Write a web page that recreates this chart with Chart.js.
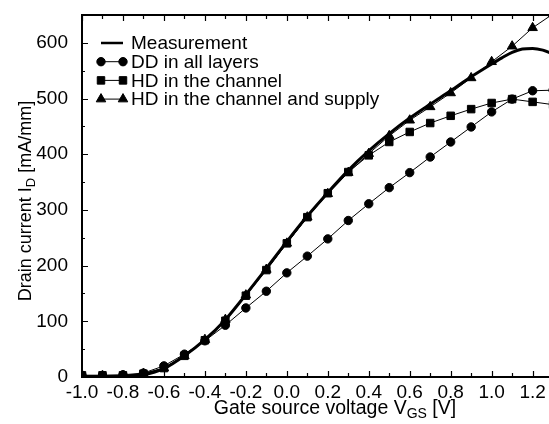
<!DOCTYPE html>
<html>
<head>
<meta charset="utf-8">
<script src="https://cdn.jsdelivr.net/npm/chart.js@4.4.1/dist/chart.umd.min.js"></script>
<style>
  html, body { margin: 0; padding: 0; background: #fff; }
  #wrap { width: 549px; height: 424px; }
</style>
</head>
<body>
<div id="wrap"><canvas id="chart"></canvas></div>
<script>
// gate voltage steps of the simulations [V]
const vgs = [-1.0, -0.9, -0.8, -0.7, -0.6, -0.5, -0.4, -0.3, -0.2, -0.1, 0.0,
  0.1, 0.2, 0.3, 0.4, 0.5, 0.6, 0.7, 0.8, 0.9, 1.0, 1.1, 1.2, 1.3];

// drain current [mA/mm]
const ddAll = [3, 3, 4, 7, 20, 41, 65, 93, 124, 154, 187,
  217, 248, 281, 311, 340, 367, 395, 422, 449, 476, 499, 514, 515];
const hdChannel = [3, 3, 3, 6, 16, 38, 66, 101, 146, 192, 240,
  287, 330, 368, 398, 422, 440, 456, 469, 481, 492, 499, 494, 489];
const hdSupply = [2, 2, 2, 6, 16, 38, 67, 103, 147, 193, 240,
  287, 329, 367, 401, 433, 461, 485, 510, 537, 566, 594, 627, 652];

// measured curve
const measVgs = [-1.0, -0.9, -0.8, -0.7, -0.6, -0.5, -0.4, -0.3, -0.2, -0.1, 0.0,
  0.1, 0.2, 0.3, 0.4, 0.5, 0.6, 0.7, 0.8, 0.9, 1.0, 1.05, 1.1, 1.15, 1.2, 1.25, 1.3];
const measId = [0, 0, 1, 4, 15, 38, 67, 103, 148, 195, 243,
  289, 331, 371, 406, 437, 465, 490, 514, 539, 562, 573, 583, 589, 590, 587, 580];

const xTicks = [-1.0, -0.8, -0.6, -0.4, -0.2, 0.0, 0.2, 0.4, 0.6, 0.8, 1.0, 1.2];
const xMinorTicks = [-0.9, -0.7, -0.5, -0.3, -0.1, 0.1, 0.3, 0.5, 0.7, 0.9, 1.1];
const yTicks = [0, 100, 200, 300, 400, 500, 600];
const yMinorTicks = [50, 150, 250, 350, 450, 550];

const FONT = 'Liberation Sans, Arial, sans-serif';
const FS = 19;

const pts = (xs, ys) => xs.map((x, i) => ({ x: x, y: ys[i] }));

// text with one subscript part, centred on (0,0) of the current transform
const drawSubLabel = (ctx, parts, size) => {
  const sub = Math.round(size * 0.7);
  const widths = parts.map(p => {
    ctx.font = (p.sub ? sub : size) + 'px ' + FONT;
    return ctx.measureText(p.t).width;
  });
  let x = -widths.reduce((a, b) => a + b, 0) / 2;
  ctx.textBaseline = 'alphabetic';
  ctx.textAlign = 'left';
  parts.forEach((p, i) => {
    ctx.font = (p.sub ? sub : size) + 'px ' + FONT;
    ctx.fillText(p.t, x, p.sub ? 4 : 0);
    x += widths[i];
  });
};

const frame = {
  id: 'frame',
  afterDraw(chart) {
    const { ctx, chartArea: a, scales: { x, y } } = chart;
    ctx.save();
    ctx.strokeStyle = '#000';
    ctx.fillStyle = '#000';

    // top border
    ctx.lineWidth = 2;
    ctx.beginPath();
    ctx.moveTo(a.left - 1, a.top);
    ctx.lineTo(a.right, a.top);
    ctx.stroke();

    // inward ticks
    ctx.lineWidth = 1.2;
    ctx.beginPath();
    const xt = (v, len) => {
      const px = Math.round(x.getPixelForValue(v)) + 0.5;
      ctx.moveTo(px, a.bottom); ctx.lineTo(px, a.bottom - len);
      ctx.moveTo(px, a.top); ctx.lineTo(px, a.top + len);
    };
    const yt = (v, len) => {
      const py = Math.round(y.getPixelForValue(v)) + 0.5;
      ctx.moveTo(a.left, py); ctx.lineTo(a.left + len, py);
    };
    xTicks.forEach(v => xt(v, 6));
    xMinorTicks.forEach(v => xt(v, 4));
    yTicks.forEach(v => yt(v, 6));
    yMinorTicks.forEach(v => yt(v, 3));
    ctx.stroke();

    // legend inside the plot
    chart.data.datasets.forEach((ds, i) => {
      const ly = a.top + 28 + i * 18.7;
      const x0 = a.left + 19, x1 = a.left + 41;
      ctx.beginPath();
      ctx.lineWidth = ds.pointStyle ? 1 : 2.5;
      ctx.moveTo(x0, ly); ctx.lineTo(x1, ly);
      ctx.stroke();
      if (ds.pointStyle) {
        const o = { pointStyle: ds.pointStyle, radius: ds.pointRadius, rotation: 0, borderWidth: 1 };
        Chart.helpers.drawPoint(ctx, o, x0, ly);
        Chart.helpers.drawPoint(ctx, o, x1, ly);
      }
      ctx.font = FS + 'px ' + FONT;
      ctx.textAlign = 'left';
      ctx.textBaseline = 'middle';
      ctx.fillText(ds.label, a.left + 49, ly + 1);
    });

    // axis titles
    ctx.save();
    ctx.translate(335, 414);
    drawSubLabel(ctx, [{ t: 'Gate source voltage V' }, { t: 'GS', sub: true }, { t: ' [V]' }], 19.5);
    ctx.restore();
    ctx.save();
    ctx.translate(31, 201);
    ctx.rotate(-Math.PI / 2);
    drawSubLabel(ctx, [{ t: 'Drain current I' }, { t: 'D', sub: true }, { t: ' [mA/mm]' }], 18);
    ctx.restore();

    ctx.restore();
  }
};

const marked = (label, data, style, r) => ({
  label: label,
  data: pts(vgs, data),
  borderColor: '#000',
  backgroundColor: '#000',
  borderWidth: 1,
  pointStyle: style,
  pointRadius: r,
  pointBorderWidth: 1,
  pointBackgroundColor: '#000',
  pointBorderColor: '#000',
  tension: 0
});

new Chart(document.getElementById('chart'), {
  type: 'line',
  data: {
    datasets: [
      {
        label: 'Measurement',
        data: pts(measVgs, measId),
        borderColor: '#000',
        borderWidth: 3,
        pointRadius: 0,
        cubicInterpolationMode: 'monotone',
        pointStyle: false
      },
      marked('DD in all layers', ddAll, 'circle', 4.2),
      marked('HD in the channel', hdChannel, 'rect', 5.3),
      marked('HD in the channel and supply', hdSupply, 'triangle', 5.5)
    ]
  },
  options: {
    responsive: true,
    maintainAspectRatio: false,
    animation: false,
    layout: { autoPadding: false, padding: { top: 15, right: 0, left: 0, bottom: 0 } },
    plugins: { legend: { display: false }, tooltip: { enabled: false } },
    scales: {
      x: {
        type: 'linear',
        min: -1.0,
        max: 1.28,
        grid: { display: false, drawTicks: false },
        border: { display: true, color: '#000', width: 2 },
        afterBuildTicks: s => { s.ticks = xTicks.map(v => ({ value: v })); },
        afterFit: s => { s.height = 47; s.paddingLeft = 0; s.paddingRight = 0; },
        ticks: {
          color: '#000',
          padding: 4,
          maxRotation: 0,
          font: { family: FONT, size: FS },
          callback: v => v.toFixed(1)
        }
      },
      y: {
        min: 0,
        max: 650,
        grid: { display: false, drawTicks: false },
        border: { display: true, color: '#000', width: 2 },
        afterBuildTicks: s => { s.ticks = yTicks.map(v => ({ value: v })); },
        afterFit: s => { s.width = 82; s.paddingTop = 0; s.paddingBottom = 0; },
        ticks: {
          color: '#000',
          padding: 14,
          font: { family: FONT, size: FS }
        }
      }
    }
  },
  plugins: [frame]
});
</script>
</body>
</html>
